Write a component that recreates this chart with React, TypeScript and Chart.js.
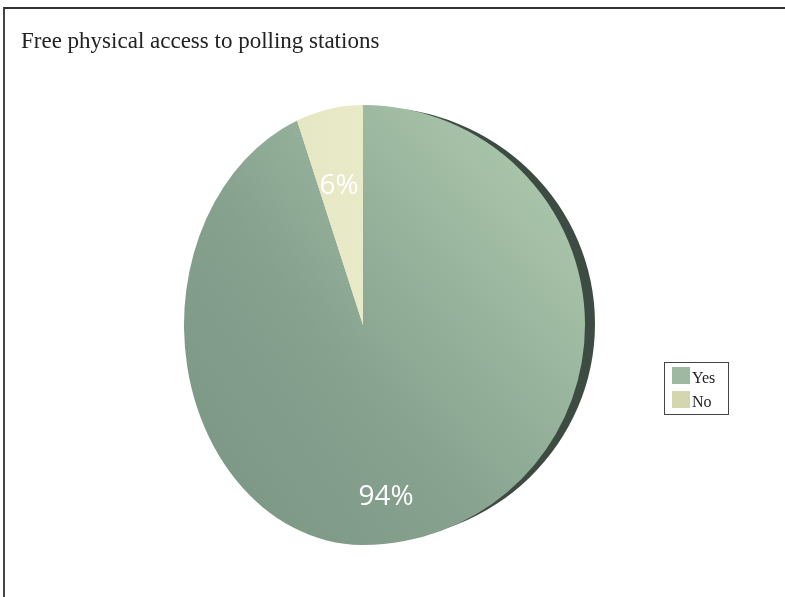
import React, { useEffect, useRef } from "react";
import { Chart, registerables } from "chart.js";

Chart.register(...registerables);

const titleText = "Free physical access to polling stations";
const categories = ["Yes", "No"];
const values = [94, 6];
const valueLabels = ["94%", "6%"];
const legendColors = ["#9fb8a2", "#d3d7b0"];

export default function App() {
  const ref = useRef<HTMLCanvasElement | null>(null);

  useEffect(() => {
    document.body.style.margin = "0";
    const canvas = ref.current;
    if (!canvas) return;

    const SXL = 0.895, SXR = 1.11, SY = 1.1;

    const perspectivePlugin = {
      id: "perspectivePie",
      beforeDatasetsDraw(chart: any) {
        const ctx = chart.ctx;
        const arc = chart.getDatasetMeta(0).data[0] as any;
        if (!arc) return;
        const { x, y } = arc;
        ctx.save();
        ctx.beginPath();
        ctx.rect(0, 0, x, chart.height);
        ctx.clip();
        ctx.translate(x, y);
        ctx.scale(SXL, SY);
        ctx.translate(-x, -y);
      },
      afterDatasetsDraw(chart: any) {
        const ctx = chart.ctx;
        ctx.restore();
        const meta = chart.getDatasetMeta(0);
        const arc = meta.data[0] as any;
        if (!arc) return;
        const { x, y, outerRadius } = arc;
        ctx.save();
        ctx.beginPath();
        ctx.rect(x, 0, chart.width - x, chart.height);
        ctx.clip();
        ctx.translate(x, y);
        ctx.scale(SXR, SY);
        ctx.translate(-x, -y);
        ctx.fillStyle = "#3d4c42";
        ctx.beginPath();
        ctx.ellipse(x + 9, y - 1, outerRadius, outerRadius * 0.985, 0, 0, Math.PI * 2);
        ctx.fill();
        meta.controller.draw();
        ctx.restore();
      },
    };

    const textPlugin = {
      id: "texts",
      afterDraw(chart: any) {
        const ctx = chart.ctx;
        const arc = chart.getDatasetMeta(0).data[0] as any;
        const cx = arc.x, cy = arc.y, r = arc.outerRadius;
        ctx.save();
        ctx.fillStyle = "#222";
        ctx.font = '23px "Liberation Serif"';
        ctx.textAlign = "left";
        ctx.textBaseline = "alphabetic";
        ctx.fillText(titleText, 21, 48);
        const rel = [
          [0.115, 0.86],
          [-0.12, -0.695],
        ];
        ctx.fillStyle = "#ffffff";
        ctx.font = '28px "Open Sans"';
        ctx.textAlign = "center";
        ctx.textBaseline = "middle";
        valueLabels.forEach((t, i) => {
          ctx.fillText(t, cx + rel[i][0] * r, cy + rel[i][1] * r);
        });
        ctx.strokeStyle = "#444";
        ctx.lineWidth = 1;
        ctx.strokeRect(664.5, 362.5, 64, 52);
        ctx.font = '16px "Liberation Serif"';
        ctx.textAlign = "left";
        ctx.textBaseline = "alphabetic";
        categories.forEach((c, i) => {
          ctx.fillStyle = legendColors[i];
          ctx.fillRect(672, 367 + i * 24, 18, 17);
          ctx.fillStyle = "#222";
          ctx.fillText(c, 692, 383 + i * 24);
        });
        ctx.restore();
      },
    };

    const chart = new Chart(canvas, {
      type: "pie",
      data: {
        labels: categories,
        datasets: [
          {
            data: values,
            borderWidth: 0,
            backgroundColor: (context: any) => {
              const ch = context.chart;
              const area = ch.chartArea;
              if (!area) return "#8fa995";
              const ctx = ch.ctx;
              if (context.dataIndex === 1) {
                const g = ctx.createLinearGradient(area.left, 0, area.right, 0);
                g.addColorStop(0, "#dfe1bb");
                g.addColorStop(0.45, "#e8e9c6");
                g.addColorStop(1, "#eceecc");
                return g;
              }
              const g = ctx.createLinearGradient(area.left, area.bottom, area.right, area.top + 60);
              g.addColorStop(0, "#7a9483");
              g.addColorStop(0.45, "#86a18e");
              g.addColorStop(1, "#adc9ad");
              return g;
            },
          },
        ],
      },
      options: {
        responsive: false,
        animation: false,
        layout: { padding: { left: 163, right: 222, top: 125, bottom: 72 } },
        plugins: {
          legend: { display: false },
          tooltip: { enabled: false },
          title: { display: false },
        },
      },
      plugins: [perspectivePlugin, textPlugin],
    });

    return () => chart.destroy();
  }, []);

  return (
    <div style={{ position: "relative", width: 785, height: 597, background: "#fff" }}>
      <canvas ref={ref} width={785} height={597} style={{ display: "block" }} />
      <div
        style={{
          position: "absolute",
          left: 3,
          top: 7,
          right: 0,
          bottom: 0,
          borderTop: "2px solid #333",
          borderLeft: "2px solid #444",
          pointerEvents: "none",
        }}
      />
    </div>
  );
}
